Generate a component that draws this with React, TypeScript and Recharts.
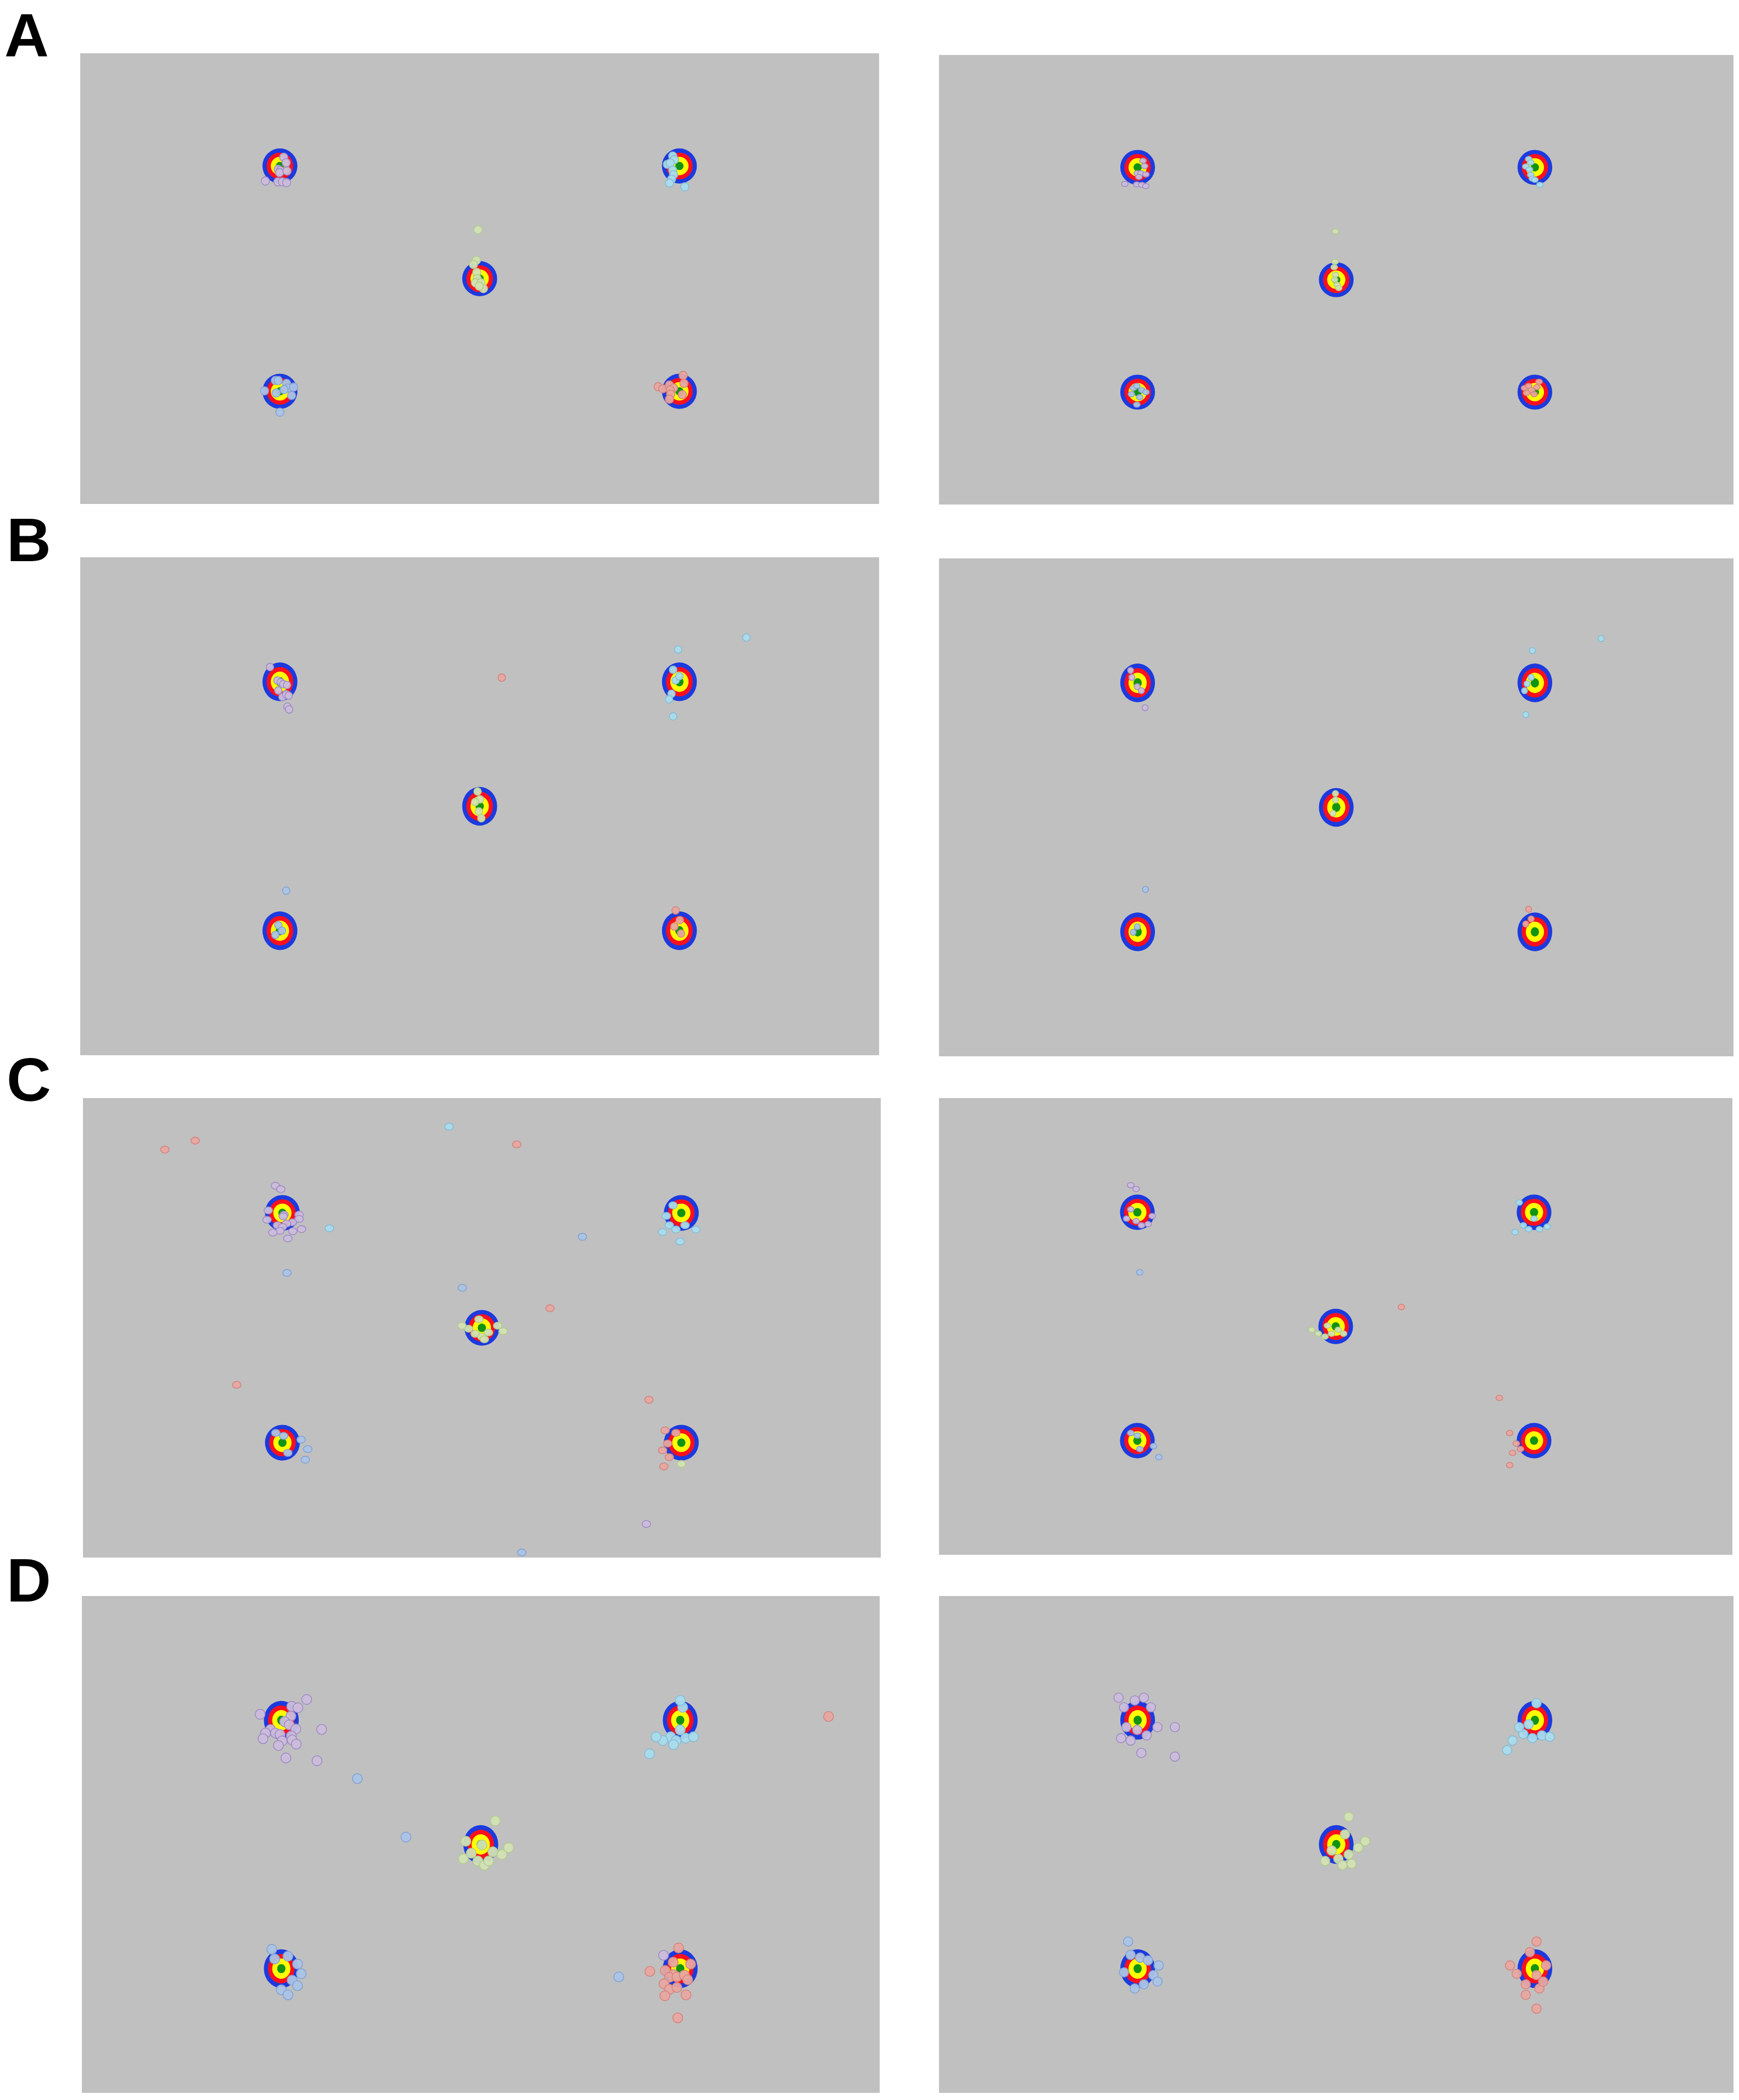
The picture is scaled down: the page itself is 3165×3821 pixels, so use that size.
import { Scatter, ScatterChart, XAxis, YAxis } from "recharts";

// screen space of the task, in px: x 0..1920, y 0..1080 (y down)
const SCREEN_W = 1920;
const SCREEN_H = 1080;

const targets = [
  { x: 480, y: 270 },
  { x: 1440, y: 270 },
  { x: 960, y: 540 },
  { x: 480, y: 810 },
  { x: 1440, y: 810 },
];
const ringRadii = [42, 32, 22, 10];

type Pt = { x: number; y: number };
const pts = (list: number[][]): Pt[] => list.map(([x, y]) => ({ x, y }));

// ---- A ----
const aLeftPurple = pts([[489, 249], [495, 262], [476, 278], [481, 281], [479, 286], [497, 282], [445, 306], [475, 308], [486, 308], [496, 310]]);
const aLeftCyan = pts([[1424, 246], [1428, 255], [1411, 266], [1418, 263], [1424, 280], [1426, 291], [1421, 302], [1416, 311], [1453, 320]]);
const aLeftGreen = pts([[956, 423], [952, 496], [945, 506], [953, 525], [954, 540], [950, 550], [963, 550], [969, 564], [959, 558]]);
const aLeftBlue = pts([[469, 784], [476, 784], [496, 791], [499, 802], [513, 800], [490, 806], [443, 809], [471, 814], [508, 820], [480, 860]]);
const aLeftSalmon = pts([[1449, 772], [1451, 791], [1389, 799], [1400, 804], [1416, 795], [1426, 802], [1418, 807], [1419, 817], [1416, 829], [1447, 818]]);

const aRightPurple = pts([[493, 254], [497, 267], [479, 284], [488, 284], [483, 293], [500, 287], [449, 310], [478, 311], [490, 312], [500, 315]]);
const aRightCyan = pts([[1425, 250], [1430, 258], [1418, 268], [1427, 275], [1430, 288], [1434, 297], [1452, 312], [1440, 300]]);
const aRightGreen = pts([[958, 424], [957, 497], [955, 510], [958, 528], [956, 540], [962, 552], [966, 560]]);
const aRightBlue = pts([[470, 800], [478, 795], [490, 805], [500, 810], [465, 815], [485, 822], [478, 840]]);
const aRightSalmon = pts([[1415, 800], [1425, 795], [1432, 805], [1450, 785], [1445, 798], [1420, 812], [1438, 815]]);

// ---- B ----
const bLeftPurple = pts([[456, 238], [474, 267], [482, 271], [488, 275], [497, 277], [476, 289], [486, 303], [495, 297], [501, 300], [498, 324], [502, 330]]);
const bLeftCyan = pts([[1437, 200], [1601, 174], [1425, 345], [1425, 244], [1431, 267], [1421, 296], [1415, 308], [1440, 258]]);
const bLeftGreen = pts([[955, 508], [961, 525], [958, 551], [964, 566], [949, 531]]);
const bLeftBlue = pts([[495, 723], [476, 798], [485, 810], [469, 819]]);
const bLeftSalmon = pts([[1013, 261], [1431, 766], [1441, 787], [1428, 801], [1444, 816]]);

const bRightPurple = pts([[463, 243], [466, 258], [479, 278], [489, 287], [498, 324]]);
const bRightCyan = pts([[1600, 174], [1434, 200], [1418, 339], [1421, 272], [1431, 258], [1415, 287]]);
const bRightGreen = pts([[958, 510], [958, 524], [952, 553]]);
const bRightBlue = pts([[499, 718], [479, 799], [469, 811]]);
const bRightSalmon = pts([[1425, 761], [1431, 782], [1418, 793]]);

// ---- C ----
const cLeftPurple = pts([[463, 206], [476, 214], [446, 264], [443, 286], [484, 274], [520, 274], [520, 284], [504, 292], [490, 295], [468, 299], [480, 303], [474, 312], [457, 316], [505, 313], [526, 308], [493, 330], [482, 278], [1356, 1001]]);
const cLeftCyan = pts([[881, 67], [593, 306], [1411, 299], [1395, 315], [1427, 309], [1449, 299], [1475, 309], [1437, 337], [1404, 277], [1420, 252]]);
const cLeftGreen = pts([[928, 542], [944, 554], [960, 561], [976, 551], [998, 535], [1011, 548], [953, 520], [966, 567], [912, 535], [1440, 860]]);
const cLeftBlue = pts([[1202, 326], [491, 411], [913, 446], [1056, 1068], [464, 787], [483, 794], [525, 803], [541, 825], [535, 850], [493, 834]]);
const cLeftSalmon = pts([[197, 121], [270, 100], [1044, 109], [1124, 494], [370, 674], [1362, 709], [1401, 781], [1407, 812], [1395, 828], [1411, 844], [1398, 866], [1427, 787]]);

const cRightPurple = pts([[464, 206], [477, 215], [454, 285], [477, 291], [490, 301], [506, 298], [516, 279], [464, 263]]);
const cRightCyan = pts([[1414, 301], [1394, 317], [1427, 310], [1453, 310], [1472, 304], [1440, 285], [1404, 247]]);
const cRightGreen = pts([[902, 548], [918, 557], [934, 564], [950, 557], [966, 548], [979, 557], [940, 538]]);
const cRightBlue = pts([[486, 412], [464, 792], [480, 798], [519, 823], [532, 849], [486, 830]]);
const cRightSalmon = pts([[1119, 494], [1356, 709], [1381, 792], [1397, 817], [1388, 839], [1407, 830], [1381, 868]]);

// ---- D ----
const dLeftPurple = pts([[541, 225], [505, 240], [520, 243], [429, 257], [503, 261], [488, 273], [499, 280], [515, 289], [454, 290], [442, 298], [466, 298], [477, 301], [504, 304], [436, 310], [506, 313], [482, 315], [473, 325], [516, 322], [577, 290], [491, 352], [566, 358], [1400, 781]]);
const dLeftCyan = pts([[1446, 242], [1440, 291], [1417, 306], [1430, 314], [1453, 309], [1472, 306], [1398, 314], [1366, 343], [1382, 306], [1424, 323], [1440, 227]]);
const dLeftGreen = pts([[924, 533], [937, 559], [953, 576], [969, 585], [989, 556], [1011, 562], [1027, 547], [995, 489], [918, 571], [963, 541], [979, 576]]);
const dLeftBlue = pts([[663, 397], [780, 524], [457, 768], [464, 789], [496, 783], [519, 800], [528, 821], [506, 835], [480, 856], [496, 867], [519, 847], [1292, 828]]);
const dLeftSalmon = pts([[1797, 262], [1436, 765], [1423, 796], [1465, 800], [1404, 814], [1367, 816], [1424, 823], [1414, 829], [1432, 828], [1450, 824], [1458, 834], [1401, 843], [1414, 855], [1432, 851], [1403, 869], [1454, 867], [1434, 917]]);

const dRightPurple = pts([[434, 221], [447, 242], [473, 227], [495, 221], [512, 242], [453, 285], [479, 291], [502, 303], [528, 285], [570, 285], [463, 314], [489, 341], [570, 349], [440, 309]]);
const dRightCyan = pts([[1444, 233], [1412, 300], [1434, 309], [1457, 303], [1476, 306], [1386, 314], [1373, 335], [1425, 279], [1402, 285]]);
const dRightGreen = pts([[990, 480], [981, 518], [949, 553], [965, 571], [990, 562], [1013, 547], [1030, 533], [933, 576], [975, 585], [997, 582]]);
const dRightBlue = pts([[457, 751], [463, 780], [486, 786], [505, 792], [531, 803], [518, 824], [495, 844], [473, 853], [528, 838], [447, 818]]);
const dRightSalmon = pts([[1444, 751], [1428, 774], [1380, 803], [1396, 821], [1444, 824], [1467, 803], [1418, 844], [1451, 853], [1444, 897], [1418, 867], [1460, 838]]);

const panelLabels = ["A", "B", "C", "D"];

const ringColors = ["#1c3ade", "#fc0f1e", "#ffff00", "#139313"];
const groupStyle = {
  purple: { fill: "#cbbddb", stroke: "#a08cc4" },
  cyan: { fill: "#a9dcec", stroke: "#86bcd4" },
  green: { fill: "#d2e2b4", stroke: "#b4ca8e" },
  blue: { fill: "#abc4e6", stroke: "#84a2d2" },
  salmon: { fill: "#e8a6a0", stroke: "#d4857f" },
};
type Group = keyof typeof groupStyle;

type Panel = {
  left: number;
  top: number;
  w: number;
  h: number;
  rx: number;
  ry: number;
  series: [Group, Pt[]][];
};

const panels: Panel[] = [
  { left: 146, top: 97, w: 1454, h: 820, rx: 7.5, ry: 7.5, series: [["purple", aLeftPurple], ["cyan", aLeftCyan], ["green", aLeftGreen], ["blue", aLeftBlue], ["salmon", aLeftSalmon]] },
  { left: 1709, top: 100, w: 1446, h: 818, rx: 6, ry: 4.7, series: [["purple", aRightPurple], ["cyan", aRightCyan], ["green", aRightGreen], ["blue", aRightBlue], ["salmon", aRightSalmon]] },
  { left: 146, top: 1014, w: 1454, h: 906, rx: 6.8, ry: 6.8, series: [["purple", bLeftPurple], ["cyan", bLeftCyan], ["green", bLeftGreen], ["blue", bLeftBlue], ["salmon", bLeftSalmon]] },
  { left: 1709, top: 1016, w: 1446, h: 906, rx: 5.5, ry: 5.5, series: [["purple", bRightPurple], ["cyan", bRightCyan], ["green", bRightGreen], ["blue", bRightBlue], ["salmon", bRightSalmon]] },
  { left: 151, top: 1998, w: 1452, h: 836, rx: 7.7, ry: 6.3, series: [["purple", cLeftPurple], ["cyan", cLeftCyan], ["green", cLeftGreen], ["blue", cLeftBlue], ["salmon", cLeftSalmon]] },
  { left: 1709, top: 1998, w: 1444, h: 831, rx: 6, ry: 5, series: [["purple", cRightPurple], ["cyan", cRightCyan], ["green", cRightGreen], ["blue", cRightBlue], ["salmon", cRightSalmon]] },
  { left: 149, top: 2904, w: 1452, h: 904, rx: 9, ry: 9, series: [["purple", dLeftPurple], ["cyan", dLeftCyan], ["green", dLeftGreen], ["blue", dLeftBlue], ["salmon", dLeftSalmon]] },
  { left: 1709, top: 2904, w: 1446, h: 904, rx: 8.5, ry: 8.5, series: [["purple", dRightPurple], ["cyan", dRightCyan], ["green", dRightGreen], ["blue", dRightBlue], ["salmon", dRightSalmon]] },
];

const labelTops = [0, 918, 1900, 2811];

function TargetPanel({ p }: { p: Panel }) {
  const sx = p.w / SCREEN_W;
  const sy = p.h / SCREEN_H;
  const targetShape = (props: any) => (
    <g>
      {ringRadii.map((r, i) => (
        <ellipse key={i} cx={props.cx} cy={props.cy} rx={r * sx} ry={r * sy} fill={ringColors[i]} />
      ))}
    </g>
  );
  return (
    <div style={{ position: "absolute", left: p.left, top: p.top, background: "#c0c0c0" }}>
      <ScatterChart width={p.w} height={p.h} margin={{ top: 0, right: 0, bottom: 0, left: 0 }}>
        <XAxis type="number" dataKey="x" domain={[0, SCREEN_W]} hide />
        <YAxis type="number" dataKey="y" domain={[0, SCREEN_H]} reversed hide />
        <Scatter data={targets} shape={targetShape} isAnimationActive={false} />
        {p.series.map(([g, data]) => (
          <Scatter
            key={g}
            data={data}
            isAnimationActive={false}
            shape={(props: any) => (
              <ellipse
                cx={props.cx}
                cy={props.cy}
                rx={p.rx}
                ry={p.ry}
                fill={groupStyle[g].fill}
                fillOpacity={0.95}
                stroke={groupStyle[g].stroke}
                strokeWidth={1.6}
              />
            )}
          />
        ))}
      </ScatterChart>
    </div>
  );
}

export default function App() {
  return (
    <div style={{ position: "absolute", left: 0, top: 0, width: 3165, height: 3821, background: "#fff" }}>
      {panelLabels.map((l, i) => (
        <div
          key={l}
          style={{
            position: "absolute",
            left: i === 0 ? 8 : 12,
            top: labelTops[i],
            fontFamily: "'Liberation Sans', Arial, sans-serif",
            fontWeight: 700,
            fontSize: 112,
            lineHeight: "normal",
          }}
        >
          {l}
        </div>
      ))}
      {panels.map((p, i) => (
        <TargetPanel key={i} p={p} />
      ))}
    </div>
  );
}
